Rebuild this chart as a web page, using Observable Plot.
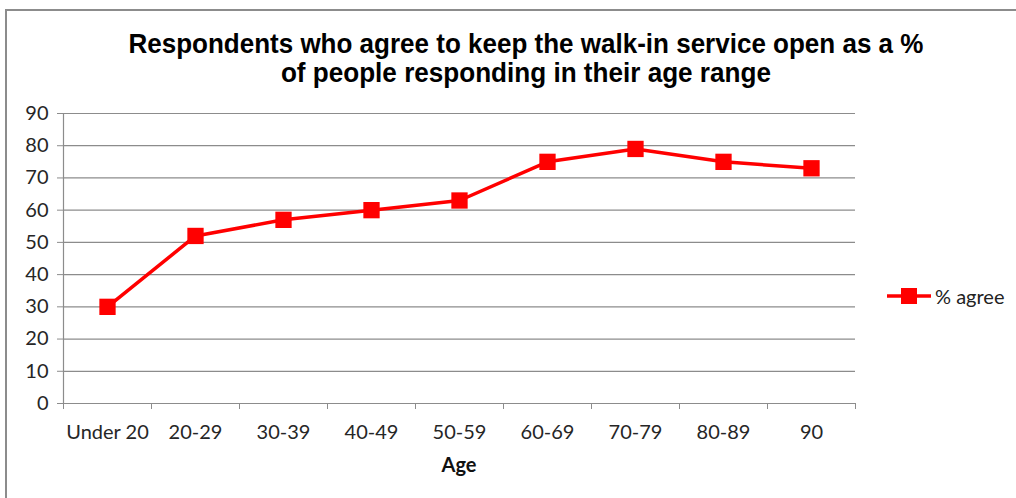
<!DOCTYPE html>
<html>
<head>
<meta charset="utf-8">
<script src="https://cdn.jsdelivr.net/npm/d3@7"></script>
<script src="https://cdn.jsdelivr.net/npm/@observablehq/plot@0.6"></script>
<style>
  html, body { margin: 0; padding: 0; background: #fff; }
  #wrap { position: relative; width: 1016px; height: 498px; overflow: hidden; }
  #frame { position: absolute; left: 5px; top: 9px; width: 1100px; height: 600px; border-left: 2px solid #8c8c8c; border-top: 2px solid #8c8c8c; }
  #title { position: absolute; left: 18px; width: 1016px; top: 29px; text-align: center; font-family: "Liberation Sans", Arial, sans-serif; font-weight: bold; font-size: 28px; line-height: 29px; color: #000; }
  #title span { display: inline-block; transform-origin: center; white-space: nowrap; }
  #xlabel { position: absolute; left: 409px; width: 100px; top: 452px; text-align: center; font-family: Lato, "Open Sans", sans-serif; font-weight: bold; font-size: 20px; color: #111; }
  #legend { position: absolute; left: 886px; top: 284px; font-family: Lato, "Open Sans", sans-serif; font-size: 20px; color: #222; display: flex; align-items: center; }
  #chart { position: absolute; left: 0; top: 0; }
</style>
</head>
<body>
<div id="wrap">
  <div id="frame"></div>
  <div id="chart"></div>
  <div id="title"><span id="t1">Respondents who agree to keep the walk-in service open as a %</span><br><span id="t2">of people responding in their age range</span></div>
  <div id="xlabel">Age</div>
  <div id="legend">
    <svg width="46" height="24"><line x1="1" y1="12" x2="45" y2="12" stroke="#ff0000" stroke-width="3.5"/><rect x="15" y="4" width="16" height="16" fill="#ff0000"/></svg>
    <span style="margin-left:3px">% agree</span>
  </div>
</div>
<script>
const categories = ["Under 20", "20-29", "30-39", "40-49", "50-59", "60-69", "70-79", "80-89", "90"];
const agree = [30, 52, 57, 60, 63, 75, 79, 75, 73];
const yTicks = [0, 10, 20, 30, 40, 50, 60, 70, 80, 90];
const seriesName = "% agree";

const data = categories.map((c, i) => ({pos: i + 0.5, category: c, value: agree[i], series: seriesName}));
const boundaries = d3.range(categories.length + 1);

const font = 'Lato, "Open Sans", sans-serif';
const plot = Plot.plot({
  width: 1016,
  height: 498,
  marginLeft: 63,
  marginRight: 161,
  marginTop: 113,
  marginBottom: 95,
  style: {fontFamily: font, fontSize: "20px", color: "#262626", background: "transparent"},
  x: {type: "linear", domain: [0, categories.length]},
  y: {domain: [0, 90]},
  marks: [
    Plot.ruleY(yTicks, {stroke: "#8c8c8c", strokeWidth: 1.2}),
    Plot.ruleX([0], {stroke: "#8c8c8c", strokeWidth: 1.2}),
    Plot.axisY({ticks: yTicks, tickSize: 6, tickPadding: 9, stroke: "#8c8c8c", label: null, fontSize: 20}),
    Plot.axisX({ticks: boundaries, tickSize: 6, tickFormat: () => "", stroke: "#8c8c8c", label: null}),
    Plot.axisX({ticks: data.map(d => d.pos), tickSize: 0, tickPadding: 21, tickFormat: (d) => categories[Math.round(d - 0.5)], label: null, fontSize: 20}),
    Plot.line(data, {x: "pos", y: "value", stroke: "#ff0000", strokeWidth: 3.5}),
    Plot.dot(data, {x: "pos", y: "value", symbol: "square", r: 9.2, fill: "#ff0000", stroke: "none"})
  ]
});
document.getElementById("chart").appendChild(plot);

// fit title widths to reference
const fit = (id, w) => {
  const el = document.getElementById(id);
  const cw = el.getBoundingClientRect().width;
  el.style.transform = `scaleX(${w / cw})`;
};
fit("t1", 795);
fit("t2", 490);
</script>
</body>
</html>
